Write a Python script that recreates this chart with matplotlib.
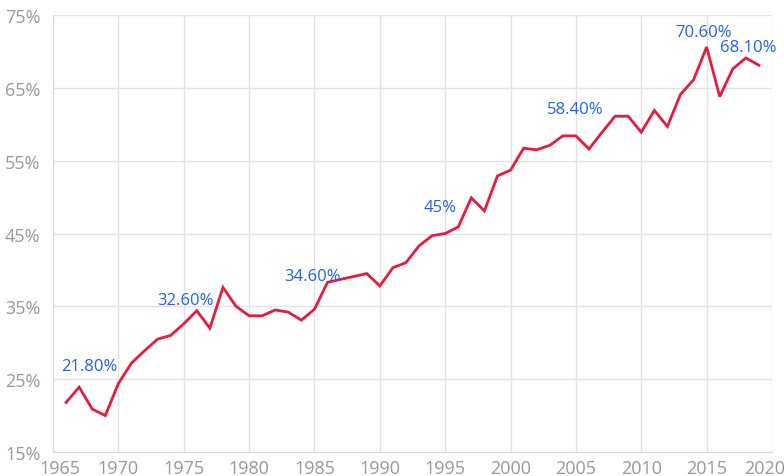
import matplotlib
matplotlib.use("Agg")
import matplotlib.pyplot as plt
from matplotlib.ticker import FuncFormatter
from matplotlib.transforms import ScaledTranslation

years = [1966, 1967, 1968, 1969, 1970, 1971, 1972, 1973, 1974, 1975, 1976, 1977,
         1978, 1979, 1980, 1981, 1982, 1983, 1984, 1985, 1986, 1989, 1990, 1991,
         1992, 1993, 1994, 1995, 1996, 1997, 1998, 1999, 2000, 2001, 2002, 2003,
         2004, 2005, 2006, 2007, 2008, 2009, 2010, 2011, 2012, 2013, 2014, 2015,
         2016, 2017, 2018, 2019]
values = [21.8, 23.9, 20.9, 20.0, 24.4, 27.2, 28.9, 30.5, 31.0, 32.6, 34.4, 32.0,
          37.6, 35.0, 33.7, 33.7, 34.5, 34.2, 33.1, 34.6, 38.3, 39.5, 37.8, 40.3,
          41.0, 43.3, 44.7, 45.0, 45.9, 49.9, 48.1, 52.9, 53.7, 56.7, 56.5, 57.1,
          58.4, 58.4, 56.6, 58.9, 61.1, 61.1, 58.9, 61.9, 59.7, 64.1, 66.1, 70.6,
          63.8, 67.6, 69.1, 68.1]

label_years = [1966, 1975, 1985, 1995, 2005, 2015, 2019]
label_texts = ["21.80%", "32.60%", "34.60%", "45%", "58.40%", "70.60%", "68.10%"]
label_offsets_px = [(23, 36), (2, 24), (-2, 33), (-5, 27), (-1, 27), (-3, 15), (-11, 18)]

x_ticks = list(range(1965, 2021, 5))
y_ticks = [15, 25, 35, 45, 55, 65, 75]

plt.rcParams['font.family'] = ['Open Sans', 'DejaVu Sans']

fig = plt.figure(figsize=(7.84, 4.77), dpi=100)
ax = fig.add_axes([53/784, 1 - 453/477, (772 - 53)/784, (453 - 16)/477])

ax.plot(years, values, color='#ea1a3d', lw=2.0, zorder=3, solid_joinstyle='miter')

ax.set_xlim(1965, 2020)
ax.set_ylim(15, 75)
ax.set_xticks(x_ticks)
ax.set_yticks(y_ticks)
ax.yaxis.set_major_formatter(FuncFormatter(lambda v, p: f"{int(v)}%"))

ax.grid(True, color='#e3e3e3', lw=1)
ax.set_axisbelow(True)
for s in ax.spines.values():
    s.set_visible(False)
ax.spines['left'].set_visible(True)
ax.spines['bottom'].set_visible(True)
ax.spines['left'].set_color('#d9d9d9')
ax.spines['bottom'].set_color('#d9d9d9')
ax.tick_params(length=0, labelsize=13, colors='#999999')
ax.tick_params(axis='y', pad=9)
ax.tick_params(axis='x', pad=5)

xlabels = ax.get_xticklabels()
xlabels[0].set_transform(xlabels[0].get_transform() + ScaledTranslation(7/100, 0, fig.dpi_scale_trans))
xlabels[-1].set_transform(xlabels[-1].get_transform() + ScaledTranslation(-7/100, 0, fig.dpi_scale_trans))

lookup = dict(zip(years, values))
for yr, txt, (dx, dy) in zip(label_years, label_texts, label_offsets_px):
    ax.annotate(txt, (yr, lookup[yr]), xytext=(dx * 0.72, dy * 0.72),
                textcoords='offset points', ha='center', va='center',
                color='#1f5eff', fontsize=12, zorder=4)

fig.savefig('out.png', dpi=100)
